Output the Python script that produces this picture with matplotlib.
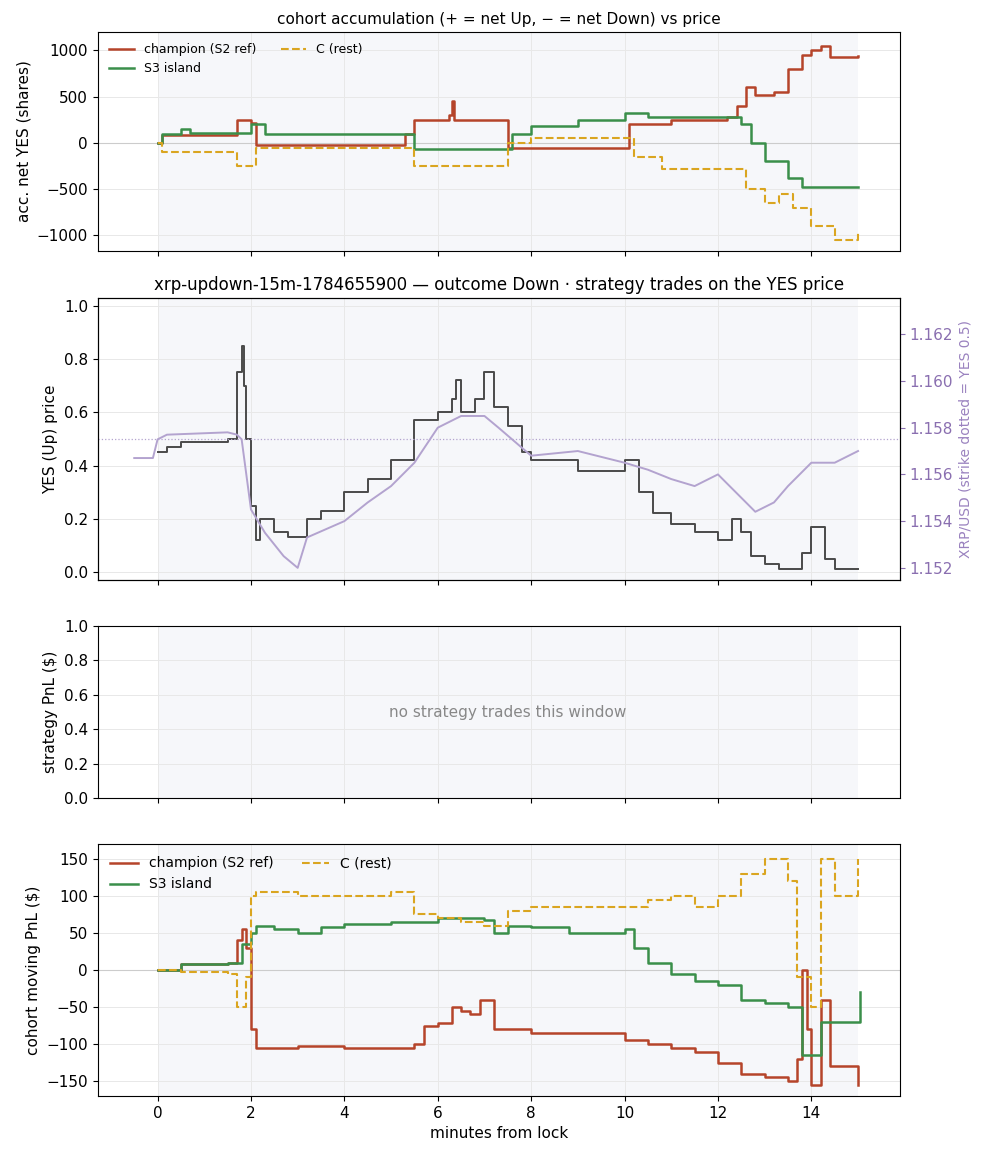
import matplotlib
matplotlib.use("Agg")
import matplotlib.pyplot as plt

plt.rcParams["font.size"] = 11

RED = "#b5442a"
GREEN = "#3a8f4a"
GOLD = "#daa520"
GREY = "#4a4a4a"
LAV = "#b3a3cf"

# panel 1: cohort accumulation (minutes, shares)
champ_acc_t = [0, 0.1, 1.7, 2.0, 2.1, 5.3, 5.5, 6.25, 6.3, 6.35, 7.0, 7.5, 10.1, 11.0, 12.2, 12.4, 12.6, 12.8, 13.2, 13.5, 13.8, 14.0, 14.2, 14.4, 15.0]
champ_acc_v = [0, 80, 250, 220, -20, 100, 250, 300, 450, 250, 250, -50, 200, 250, 280, 400, 600, 520, 550, 800, 950, 1000, 1050, 930, 940]
s3_acc_t = [0, 0.1, 0.5, 0.7, 1.8, 2.0, 2.3, 5.0, 5.5, 7.5, 7.6, 8.0, 9.0, 10.0, 10.5, 12.5, 12.7, 13.0, 13.5, 13.8, 15.0]
s3_acc_v = [0, 100, 150, 110, 110, 200, 100, 100, -70, -70, 100, 180, 250, 320, 280, 200, 0, -200, -380, -480, -480]
c_acc_t = [0, 0.1, 1.5, 1.7, 2.0, 2.1, 5.3, 5.5, 7.0, 7.5, 8.0, 10.0, 10.2, 10.8, 12.3, 12.6, 13.0, 13.3, 13.6, 14.0, 14.5, 15.0]
c_acc_v = [0, -100, -100, -250, -250, -50, -50, -250, -250, 0, 50, 50, -150, -280, -280, -500, -650, -550, -700, -900, -1050, -950]

# panel 2: YES price and XRP/USD
yes_t = [0, 0.2, 0.5, 1.5, 1.7, 1.8, 1.85, 1.9, 2.0, 2.1, 2.2, 2.5, 2.8, 3.2, 3.5, 4.0, 4.5, 5.0, 5.5, 6.0, 6.3, 6.4, 6.5, 6.8, 7.0, 7.2, 7.5, 7.8, 8.0, 9.0, 10.0, 10.3, 10.6, 11.0, 11.5, 12.0, 12.3, 12.5, 12.7, 13.0, 13.3, 13.8, 14.0, 14.3, 14.5, 15.0]
yes_v = [0.45, 0.47, 0.49, 0.50, 0.75, 0.85, 0.70, 0.50, 0.25, 0.12, 0.20, 0.15, 0.13, 0.20, 0.23, 0.30, 0.35, 0.42, 0.57, 0.60, 0.65, 0.72, 0.60, 0.65, 0.75, 0.62, 0.55, 0.45, 0.42, 0.38, 0.42, 0.30, 0.22, 0.18, 0.15, 0.12, 0.20, 0.15, 0.06, 0.03, 0.01, 0.07, 0.17, 0.05, 0.01, 0.01]
xrp_t = [-0.5, -0.1, 0.0, 0.2, 1.5, 1.7, 1.8, 2.0, 2.3, 2.7, 3.0, 3.2, 4.0, 4.5, 5.0, 5.5, 6.0, 6.5, 7.0, 7.3, 8.0, 9.0, 10.0, 10.5, 11.0, 11.5, 12.0, 12.4, 12.8, 13.2, 13.5, 14.0, 14.5, 15.0]
xrp_v = [1.1567, 1.1567, 1.1575, 1.1577, 1.1578, 1.1577, 1.1575, 1.1545, 1.1535, 1.1525, 1.1520, 1.1533, 1.1540, 1.1548, 1.1555, 1.1565, 1.1580, 1.1585, 1.1585, 1.1580, 1.1568, 1.1570, 1.1565, 1.1562, 1.1558, 1.1555, 1.1560, 1.1552, 1.1544, 1.1548, 1.1555, 1.1565, 1.1565, 1.1570]
strike = 1.1575

# panel 4: cohort moving PnL
champ_pnl_t = [0, 0.5, 1.5, 1.7, 1.8, 1.9, 2.0, 2.1, 3.0, 4.0, 5.5, 5.7, 6.0, 6.3, 6.5, 6.7, 6.9, 7.2, 8.0, 10.0, 10.5, 11.0, 11.5, 12.0, 12.5, 13.0, 13.5, 13.7, 13.8, 13.9, 14.0, 14.2, 14.4, 15.0]
champ_pnl_v = [0, 8, 10, 40, 55, 30, -80, -105, -103, -105, -100, -75, -72, -50, -55, -60, -40, -80, -85, -95, -100, -105, -110, -125, -140, -145, -150, -120, 0, -80, -155, -40, -130, -155]
s3_pnl_t = [0, 0.5, 1.5, 1.8, 2.0, 2.1, 2.5, 3.0, 3.5, 4.0, 5.0, 6.0, 7.0, 7.2, 7.5, 8.0, 8.8, 10.0, 10.2, 10.5, 11.0, 11.5, 12.0, 12.5, 13.0, 13.5, 13.8, 14.2, 15.0, 15.05]
s3_pnl_v = [0, 8, 10, 35, 50, 60, 55, 50, 58, 62, 65, 70, 68, 50, 60, 58, 50, 55, 30, 10, -5, -15, -20, -40, -45, -50, -115, -70, -70, -30]
c_pnl_t = [0, 0.5, 1.5, 1.7, 1.9, 2.0, 2.1, 3.0, 5.0, 5.5, 6.0, 6.5, 7.0, 7.5, 8.0, 10.0, 10.5, 11.0, 11.5, 12.0, 12.5, 13.0, 13.5, 13.7, 14.0, 14.2, 14.5, 15.0]
c_pnl_v = [0, -3, -5, -50, -10, 100, 105, 100, 105, 75, 70, 65, 60, 80, 85, 85, 95, 100, 85, 100, 130, 150, 120, -10, -50, 150, 100, 150]

fig = plt.figure(figsize=(9.88, 11.56), dpi=100)
L, W = 0.099, 0.812
ax1 = fig.add_axes([L, 1 - 251 / 1156, W, 219 / 1156])
ax2 = fig.add_axes([L, 1 - 580 / 1156, W, 282 / 1156], sharex=ax1)
ax3 = fig.add_axes([L, 1 - 798 / 1156, W, 172 / 1156], sharex=ax1)
ax4 = fig.add_axes([L, 1 - 1096 / 1156, W, 252 / 1156], sharex=ax1)

for ax in (ax1, ax2, ax3, ax4):
    ax.axvspan(0, 15, color="#eef0f7", alpha=0.5, lw=0, zorder=0)
    ax.grid(True, color="#e8e8e8", lw=0.7)
    ax.set_axisbelow(True)
ax1.set_xlim(-1.28, 15.9)

ax1.axhline(0, color="#cccccc", lw=0.8)
ax1.step(champ_acc_t, champ_acc_v, where="post", color=RED, lw=1.8, label="champion (S2 ref)")
ax1.step(s3_acc_t, s3_acc_v, where="post", color=GREEN, lw=1.8, label="S3 island")
ax1.step(c_acc_t, c_acc_v, where="post", color=GOLD, lw=1.5, ls="--", label="C (rest)")
ax1.set_ylim(-1170, 1200)
ax1.set_ylabel("acc. net YES (shares)")
ax1.set_title("cohort accumulation (+ = net Up, − = net Down) vs price", fontsize=11)
ax1.legend(loc="upper left", ncol=2, fontsize=9, frameon=False)
ax1.tick_params(labelbottom=False)

ax2.step(yes_t, yes_v, where="post", color=GREY, lw=1.4)
ax2.set_ylim(-0.03, 1.03)
ax2.set_ylabel("YES (Up) price")
ax2.set_title("xrp-updown-15m-1784655900 — outcome Down · strategy trades on the YES price", fontsize=12)
ax2.tick_params(labelbottom=False)
tw = ax2.twinx()
tw.plot(xrp_t, xrp_v, color=LAV, lw=1.4)
tw.axhline(strike, color="#b3a3cf", lw=0.9, ls=":")
tw.set_ylim(1.15148, 1.16355)
tw.set_yticks([1.152, 1.154, 1.156, 1.158, 1.160, 1.162])
tw.tick_params(axis="y", colors="#8a6fb0")
tw.set_ylabel("XRP/USD (strike dotted = YES 0.5)", color="#9a82bf", fontsize=10)

ax3.set_ylim(0, 1)
ax3.set_ylabel("strategy PnL ($)")
ax3.text(7.5, 0.5, "no strategy trades this window", ha="center", va="center", color="#888888", fontsize=11)
ax3.tick_params(labelbottom=False)

ax4.axhline(0, color="#cccccc", lw=0.8)
ax4.step(champ_pnl_t, champ_pnl_v, where="post", color=RED, lw=1.8, label="champion (S2 ref)")
ax4.step(s3_pnl_t, s3_pnl_v, where="post", color=GREEN, lw=1.8, label="S3 island")
ax4.step(c_pnl_t, c_pnl_v, where="post", color=GOLD, lw=1.5, ls="--", label="C (rest)")
ax4.set_ylim(-170, 170)
ax4.set_ylabel("cohort moving PnL ($)")
ax4.set_xlabel("minutes from lock")
ax4.legend(loc="upper left", ncol=2, fontsize=10, frameon=False)

fig.savefig("out.png", dpi=100)
